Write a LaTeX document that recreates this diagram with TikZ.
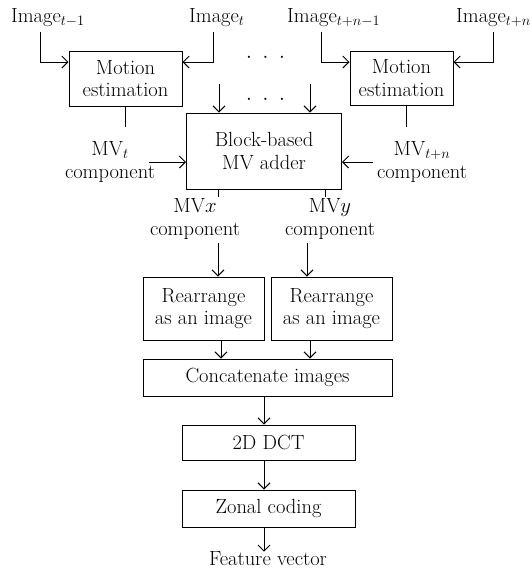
\documentclass[tikz,border=0pt]{standalone}
\usetikzlibrary{arrows.meta}
\begin{document}
\begin{tikzpicture}[x=1pt,y=-1pt,
  every node/.style={font=\fontsize{20.5}{22.5}\selectfont},
  box/.style={draw,line width=1pt,inner sep=0pt,align=center},
  lbl/.style={inner sep=0pt,align=center},
  conn/.style={line width=1pt},
  arr/.style={line width=1pt,-{Straight Barb[length=6pt,width=12pt,line width=1pt]}}]
\useasboundingbox (0,0) rectangle (531,571);
% boxes
\node[box,minimum width=113pt,minimum height=55pt] (me1) at (125.5,78.5) {Motion\\estimation};
\node[box,minimum width=103pt,minimum height=54pt] (me2) at (401.5,78) {Motion\\estimation};
\node[box,minimum width=155pt,minimum height=76pt] (ba) at (264,151) {Block-based\\MV adder};
\node[box,minimum width=121pt,minimum height=63pt] (r1) at (203.5,308.5) {Rearrange\\as an image};
\node[box,minimum width=121pt,minimum height=63pt] (r2) at (331.5,308.5) {Rearrange\\as an image};
\node[box,minimum width=249pt,minimum height=37pt] (cc) at (267.5,377.5) {Concatenate images};
\node[box,minimum width=173pt,minimum height=35pt] (dct) at (268.5,442.5) {2D DCT};
\node[box,minimum width=173pt,minimum height=37pt] (zc) at (268.5,508.5) {Zonal coding};
% labels
\node[lbl,anchor=base west] (i1) at (11,22) {Image$_{t-1}$};
\node[lbl,anchor=base west] (i2) at (189,22) {Image$_{t}$};
\node[lbl,anchor=base west] (i3) at (287,22) {Image$_{t+n-1}$};
\node[lbl,anchor=base west] (i4) at (456,22) {Image$_{t+n}$};
\node[lbl] (mvt) at (110,162) {MV$_{t}$\\component};
\node[lbl] (mvtn) at (422,162) {MV$_{t+n}$\\component};
\node[lbl] (mvx) at (195,219) {MV$x$\\component};
\node[lbl] (mvy) at (330,219) {MV$y$\\component};
\node[lbl] (fv) at (268,559) {Feature vector};
\node[lbl] (d1) at (265.5,58) {$\cdot\ \cdot\ \cdot$};
\node[lbl] (d2) at (265.5,100) {$\cdot\ \cdot\ \cdot$};
% coordinates
\coordinate (i1b) at (40,32);
\coordinate (i2b) at (213,32);
\coordinate (i3b) at (321,32);
\coordinate (i4b) at (493,32);
\coordinate (me1e) at (125,127);
\coordinate (me2e) at (406,127);
\coordinate (mvts) at (149,162);
\coordinate (mvtns) at (373,162);
\coordinate (bt1) at (219,84);
\coordinate (bt2) at (310,84);
\coordinate (bxe) at (218,197);
\coordinate (bye) at (325,197);
\coordinate (xs) at (218,243);
\coordinate (ys) at (307,243);
% connectors
\draw[arr] (i1b) |- (me1.west |- 0,62);
\draw[arr] (i2b) |- (me1.east |- 0,62);
\draw[arr] (i3b) |- (me2.west |- 0,62);
\draw[arr] (i4b) |- (me2.east |- 0,62);
\draw[conn] (me1.south -| me1e) -- (me1e);
\draw[conn] (me2.south -| me2e) -- (me2e);
\draw[arr] (mvts) -- (ba.west |- mvts);
\draw[arr] (mvtns) -- (ba.east |- mvtns);
\draw[arr] (bt1) -- (ba.north -| bt1);
\draw[arr] (bt2) -- (ba.north -| bt2);
\draw[conn] (ba.south -| bxe) -- (bxe);
\draw[conn] (ba.south -| bye) -- (bye);
\draw[arr] (xs) -- (r1.north -| xs);
\draw[arr] (ys) -- (r2.north -| ys);
\draw[arr] (r1.south -| 221,0) -- (cc.north -| 221,0);
\draw[arr] (r2.south -| 310,0) -- (cc.north -| 310,0);
\draw[arr] (cc.south -| 264,0) -- (dct.north -| 264,0);
\draw[arr] (dct.south -| 264,0) -- (zc.north -| 264,0);
\draw[arr] (zc.south -| 264,0) -- (fv.north -| 264,0);
\end{tikzpicture}
\end{document}
